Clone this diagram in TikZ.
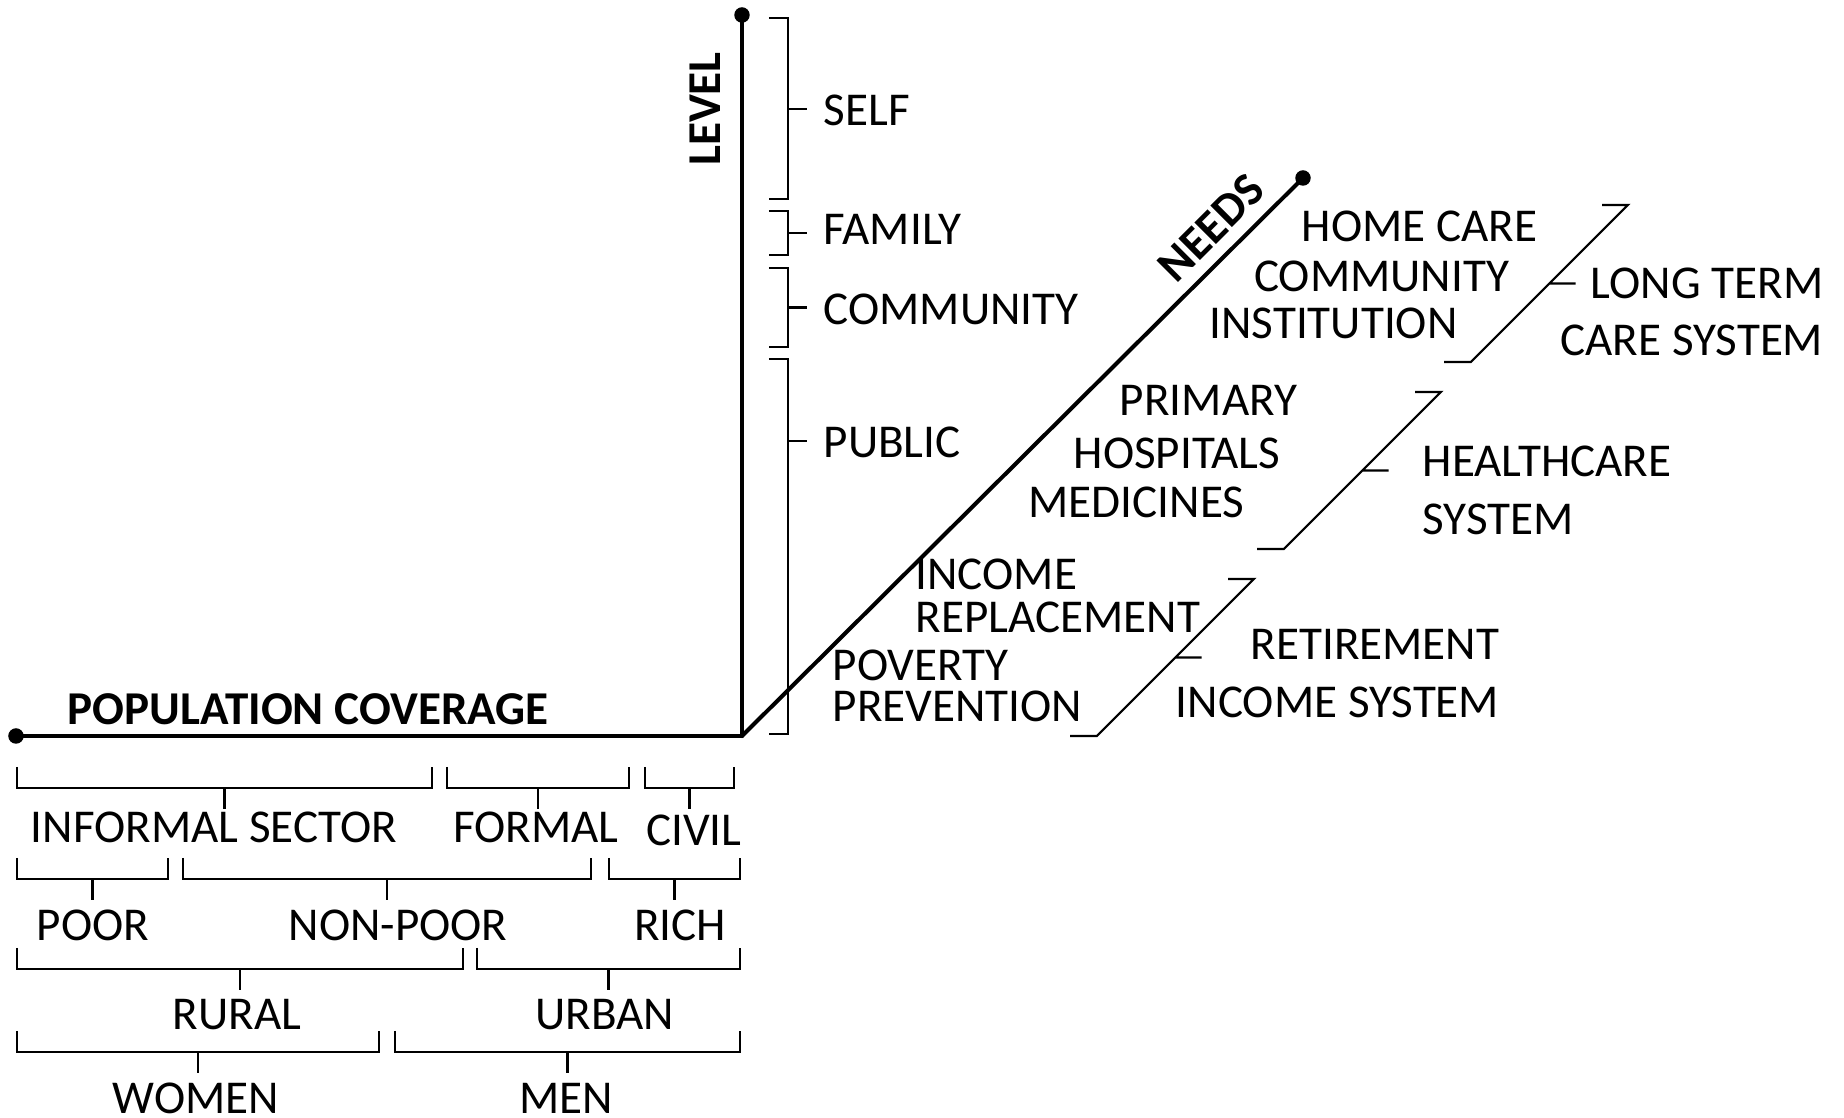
\documentclass[tikz,border=0pt]{standalone}
\usepackage{fontspec}
\setmainfont{Carlito}
\usepackage{tikz}
\usepackage{tkz-euclide}

\begin{document}
\begin{tikzpicture}[
    lbl/.style={inner sep=0pt, font=\fontsize{13.4}{16}\selectfont},
    axlbl/.style={inner sep=0pt, font=\fontsize{13.4}{16}\selectfont\bfseries},
    brk/.style={black, line width=0.6pt},
    axis/.style={black, line width=1.15pt}]
            \useasboundingbox (-7.42,-3.82) rectangle (11.02,7.36);
            % the three axes
            \tkzDefPoints{0/0/O, -7.26/0/P, 0/7.21/L, 5.61/5.58/N}
            \tkzDrawSegments[axis](P,O O,L O,N)
            \tkzDrawPoints[fill=black, size=4](P,L,N)
            \node[axlbl, anchor=west] (popcov) at (-6.75,0.27) {POPULATION COVERAGE};
            \node[axlbl, rotate=90] (level) at (-0.37,6.27) {LEVEL};
            \node[axlbl, rotate=45] (needs) at (4.69,5.08) {NEEDS};
            % level brackets
            \foreach \t/\b/\m in {7.18/5.37/6.27, 5.25/4.81/5.03, 4.68/3.89/4.285, 3.77/0.02/2.95}
                \draw[brk] (0.27,\t) -- (0.46,\t) -- (0.46,\b) -- (0.27,\b) (0.46,\m) -- (0.65,\m);
            \node[lbl, anchor=west] (self) at (0.81,6.26) {SELF};
            \node[lbl, anchor=west] (family) at (0.81,5.07) {FAMILY};
            \node[lbl, anchor=west] (commun) at (0.81,4.27) {COMMUNITY};
            \node[lbl, anchor=west] (public) at (0.81,2.94) {PUBLIC};
            % population brackets, row by row
            \foreach \a/\b/\y in {-7.25/-3.10/-0.31, -2.95/-1.13/-0.31, -0.97/-0.08/-0.31,
                                  -7.25/-5.74/-1.22, -5.59/-1.51/-1.22, -1.33/-0.02/-1.22,
                                  -7.25/-2.79/-2.12, -2.65/-0.02/-2.12,
                                  -7.25/-3.63/-2.95, -3.47/-0.02/-2.95}
                \draw[brk] (\a,\y) -- (\a,\y-0.21) -- (\b,\y-0.21) -- (\b,\y)
                    ({(\a+\b)/2},\y-0.21) -- ++(0,-0.21);
            \node[lbl] (informal) at (-5.28,-0.91) {INFORMAL SECTOR};
            \node[lbl] (formal) at (-2.06,-0.91) {FORMAL};
            \node[lbl] (civil) at (-0.48,-0.94) {CIVIL};
            \node[lbl] (poor) at (-6.49,-1.89) {POOR};
            \node[lbl] (nonpoor) at (-3.44,-1.89) {NON-POOR};
            \node[lbl] (rich) at (-0.62,-1.89) {RICH};
            \node[lbl] (rural) at (-5.05,-2.79) {RURAL};
            \node[lbl] (urban) at (-1.37,-2.79) {URBAN};
            \node[lbl] (women) at (-5.46,-3.62) {WOMEN};
            \node[lbl] (men) at (-1.76,-3.62) {MEN};
            % needs brackets, parallel to the needs axis
            \foreach \y in {0, 1.87, 3.74}
                \draw[brk] (\y+3.28,\y) -- (\y+3.55,\y) -- (\y+5.12,\y+1.57) -- (\y+4.86,\y+1.57)
                    (\y+4.335,\y+0.785) -- ++(0.26,0);
            \node[lbl] (homecare) at (6.775,5.10) {HOME CARE};
            \node[lbl] (community) at (6.395,4.60) {COMMUNITY};
            \node[lbl] (institution) at (5.915,4.13) {INSTITUTION};
            \node[lbl] (primary) at (4.665,3.36) {PRIMARY};
            \node[lbl] (hospitals) at (4.35,2.83) {HOSPITALS};
            \node[lbl] (medicines) at (3.945,2.34) {MEDICINES};
            \node[lbl, anchor=west] (income) at (1.73,1.615) {INCOME};
            \node[lbl, anchor=west] (replace) at (1.73,1.19) {REPLACEMENT};
            \node[lbl, anchor=west] (poverty) at (0.90,0.71) {POVERTY};
            \node[lbl, anchor=west] (prevent) at (0.90,0.295) {PREVENTION};
            % system names
            \node[lbl, anchor=east] (ltc) at (10.82,4.53) {LONG TERM};
            \node[lbl, anchor=east] (ltcsys) at (10.82,3.96) {CARE SYSTEM};
            \node[lbl, anchor=west] (health) at (6.80,2.75) {HEALTHCARE};
            \node[lbl, anchor=west] (healthsys) at (6.80,2.17) {SYSTEM};
            \node[lbl, anchor=east] (retire) at (7.58,0.92) {RETIREMENT};
            \node[lbl, anchor=east] (retiresys) at (7.58,0.34) {INCOME SYSTEM};
        \end{tikzpicture}
\end{document}
